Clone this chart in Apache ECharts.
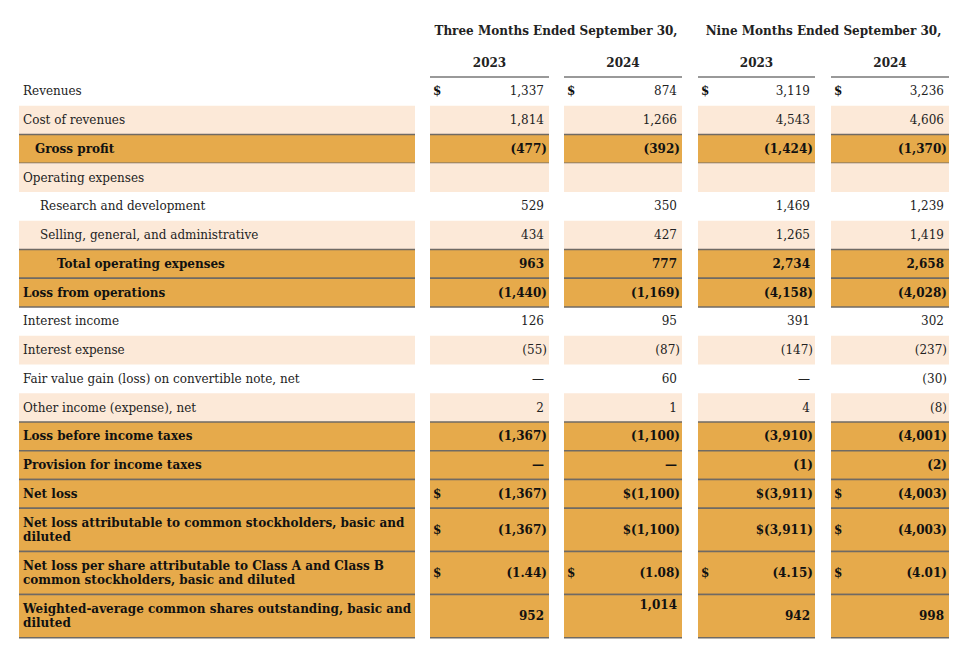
<!DOCTYPE html>
<html>
<head>
<meta charset="utf-8">
<script src="https://cdn.jsdelivr.net/npm/echarts@6/dist/echarts.min.js"></script>
<style>html,body{margin:0;padding:0;background:#fff;}#chart{width:960px;height:666px;}</style>
</head>
<body>
<div id="chart"></div>
<script>
// ---------- DATA ----------
const rowLabels = [
  'Revenues',
  'Cost of revenues',
  'Gross profit',
  'Operating expenses',
  'Research and development',
  'Selling, general, and administrative',
  'Total operating expenses',
  'Loss from operations',
  'Interest income',
  'Interest expense',
  'Fair value gain (loss) on convertible note, net',
  'Other income (expense), net',
  'Loss before income taxes',
  'Provision for income taxes',
  'Net loss',
  'Net loss attributable to common stockholders, basic and\ndiluted',
  'Net loss per share attributable to Class A and Class B\ncommon stockholders, basic and diluted',
  'Weighted-average common shares outstanding, basic and\ndiluted'
];
const periodHeaders = ['Three Months Ended September 30,', 'Nine Months Ended September 30,'];
const yearHeaders = ['2023', '2024', '2023', '2024'];
// values (null = blank, 0 = dash)
const q3_2023 = [1337, 1814, -477, null, 529, 434, 963, -1440, 126, -55, 0, 2, -1367, 0, -1367, -1367, -1.44, 952];
const q3_2024 = [874, 1266, -392, null, 350, 427, 777, -1169, 95, -87, 60, 1, -1100, 0, -1100, -1100, -1.08, 1014];
const ytd_2023 = [3119, 4543, -1424, null, 1469, 1265, 2734, -4158, 391, -147, 0, 4, -3910, -1, -3911, -3911, -4.15, 942];
const ytd_2024 = [3236, 4606, -1370, null, 1239, 1419, 2658, -4028, 302, -237, -30, -8, -4001, -2, -4003, -4003, -4.01, 998];
const seriesValues = [q3_2023, q3_2024, ytd_2023, ytd_2024];

// ---------- STYLE / LAYOUT ----------
const rowKind = ['plain','light','dark','light','plain','light','dark','dark','plain','light','plain','light','dark','dark','dark','dark','dark','dark'];
const rowIndent = [0,0,12,0,17,17,34,0,0,0,0,0,0,0,0,0,0,0];
const rowSpan = [1,1,1,1,1,1,1,1,1,1,1,1,1,1,1,1.5,1.5,1.5];
// dollar sign placement: L = left of cell, I = inline with value
const dollarMode = {
  0: ['L','L','L','L'],
  14: ['L','I','I','L'],
  15: ['L','I','I','L'],
  16: ['L','L','L','L']
};
const topAligned = {'17-1': true};

const LIGHT = '#fce9d8';
const DARK = '#e6aa4b';
const LINE = '#6f6a64';
const TEXT = '#222222';
const TEXT_B = '#111111';
const FONT = '"DejaVu Serif", serif';

const colEdges = [[19, 415], [430, 549], [564, 682], [698, 815], [831, 949]];
const tableTop = 77;
const unitH = 28.75;
const rowTop = [tableTop];
rowSpan.forEach((s, i) => rowTop.push(rowTop[i] + s * unitH));

function fmt(v) {
  if (v === 0) return '—';
  const dec = Number.isInteger(v) ? 0 : 2;
  const s = Math.abs(v).toLocaleString('en-US', {minimumFractionDigits: dec, maximumFractionDigits: dec});
  return v < 0 ? '(' + s + ')' : s;
}

function renderRow(params, api) {
  const r = api.value(1);
  const y0 = rowTop[r], y1 = rowTop[r + 1], ym = (y0 + y1) / 2;
  const kind = rowKind[r];
  const bold = kind === 'dark';
  const fill = kind === 'light' ? LIGHT : (kind === 'dark' ? DARK : null);
  const font = (bold ? 'bold ' : '') + '12px ' + FONT;
  const color = bold ? TEXT_B : TEXT;
  const children = [];
  colEdges.forEach(([a, b]) => {
    const p0 = api.coord([a, y0]), p1 = api.coord([b, y1]);
    if (fill) {
      children.push({type: 'rect', shape: {x: p0[0], y: p0[1], width: p1[0] - p0[0], height: p1[1] - p0[1]}, style: {fill: fill}});
    }
    if (kind === 'dark') {
      [y0, y1].forEach(yy => {
        const q = api.coord([a, yy]), q2 = api.coord([b, yy]);
        children.push({type: 'line', shape: {x1: q[0], y1: q[1], x2: q2[0], y2: q2[1]}, style: {stroke: LINE, lineWidth: 1.5}});
      });
    }
  });
  // label
  const lp = api.coord([colEdges[0][0] + 4 + rowIndent[r], ym]);
  children.push({type: 'text', x: lp[0], y: lp[1], style: {text: rowLabels[r], font: font, fill: color, align: 'left', verticalAlign: 'middle', lineHeight: 14}});
  // values
  for (let c = 0; c < 4; c++) {
    const v = seriesValues[c][r];
    if (v === null || v === undefined) continue;
    const [a, b] = colEdges[c + 1];
    const mode = dollarMode[r] ? dollarMode[r][c] : '';
    let txt = fmt(v);
    if (mode === 'I') txt = '$' + txt;
    const paren = txt.endsWith(')');
    const top = topAligned[r + '-' + c];
    const vp = api.coord([b - (paren ? 2 : 5), top ? y0 + 4 : ym]);
    children.push({type: 'text', x: vp[0], y: vp[1], style: {text: txt, font: font, fill: color, align: 'right', verticalAlign: top ? 'top' : 'middle'}});
    if (mode === 'L') {
      const dp = api.coord([a + 3, ym]);
      children.push({type: 'text', x: dp[0], y: dp[1], style: {text: '$', font: 'bold 12px ' + FONT, fill: TEXT_B, align: 'left', verticalAlign: 'middle'}});
    }
  }
  return {type: 'group', children: children};
}

function renderHeader(params, api) {
  const children = [];
  const font = 'bold 12px ' + FONT;
  periodHeaders.forEach((h, i) => {
    const a = colEdges[1 + i * 2][0], b = colEdges[2 + i * 2][1];
    const p = api.coord([(a + b) / 2, 31]);
    children.push({type: 'text', x: p[0], y: p[1], style: {text: h, font: font, fill: '#222222', align: 'center', verticalAlign: 'middle'}});
  });
  yearHeaders.forEach((y, i) => {
    const [a, b] = colEdges[i + 1];
    const p = api.coord([(a + b) / 2, 63]);
    children.push({type: 'text', x: p[0], y: p[1], style: {text: y, font: font, fill: '#222222', align: 'center', verticalAlign: 'middle'}});
    const q = api.coord([a, tableTop]), q2 = api.coord([b, tableTop]);
    children.push({type: 'line', shape: {x1: q[0], y1: q[1], x2: q2[0], y2: q2[1]}, style: {stroke: '#777', lineWidth: 1.5}});
  });
  return {type: 'group', children: children};
}

const chart = echarts.init(document.getElementById('chart'), null, {renderer: 'svg'});
chart.setOption({
  animation: false,
  backgroundColor: '#ffffff',
  grid: {left: 0, right: 0, top: 0, bottom: 0},
  xAxis: {type: 'value', min: 0, max: 960, show: false},
  yAxis: {type: 'value', min: 0, max: 666, inverse: true, show: false},
  series: [
    {type: 'custom', renderItem: renderRow, data: rowLabels.map((_, i) => [0, i]), silent: true},
    {type: 'custom', renderItem: renderHeader, data: [[0, 0]], silent: true}
  ]
});
</script>
</body>
</html>
